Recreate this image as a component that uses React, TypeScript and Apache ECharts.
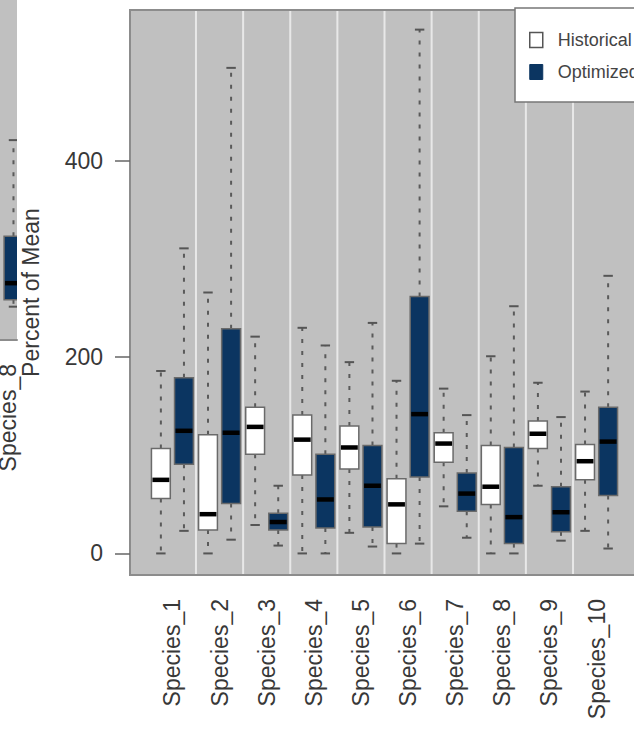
import React, { useEffect, useRef } from "react";
import * as echarts from "echarts";

// ---- data ----
const categories = [
  "Species_1", "Species_2", "Species_3", "Species_4", "Species_5",
  "Species_6", "Species_7", "Species_8", "Species_9", "Species_10",
];
// [lower whisker, Q1, median, Q3, upper whisker]
const historical = [
  [0, 56, 75, 107, 186],
  [0, 24, 40, 121, 266],
  [29, 101, 129, 149, 221],
  [0, 80, 116, 141, 230],
  [21, 86, 108, 130, 195],
  [0, 10, 50, 76, 176],
  [48, 93, 112, 123, 168],
  [0, 50, 68, 110, 201],
  [69, 107, 122, 135, 174],
  [23, 75, 94, 111, 165],
];
const optimized = [
  [23, 91, 125, 179, 311],
  [14, 51, 123, 229, 495],
  [8, 24, 32, 41, 69],
  [0, 26, 55, 101, 212],
  [7, 27, 69, 110, 235],
  [10, 78, 142, 262, 534],
  [16, 43, 61, 82, 141],
  [0, 10, 37, 108, 252],
  [13, 22, 42, 68, 139],
  [5, 59, 114, 149, 283],
];
const separators = [1.5, 2.5, 3.5, 4.5, 5.5, 6.5, 7.5, 8.5, 9.5];
const yTicks = [0, 200, 400];
const seriesNames = ["Historical", "Optimized"];
const yTitle = "Percent of Mean";
// cropped neighbour panel at the left edge
const fragmentLabel = "Species_8";
const fragmentOptimized = [12, 19, 36, 84, 182];

// ---- styling ----
const FONT = "'Liberation Sans', Arial, sans-serif";
const TEXT = "#383838";
const GREY_BG = "#c0c0c0";
const NAVY = "#0b3561";
const BOX_W = 0.4;
const OFFSET = 0.245;
const FS = 23;

function makeRender(fill: string) {
  return (params: any, api: any) => {
    const x = api.value(0);
    const lo = api.value(1);
    const q1 = api.value(2);
    const med = api.value(3);
    const q3 = api.value(4);
    const hi = api.value(5);
    const cx = api.coord([x, med])[0];
    const yLo = api.coord([x, lo])[1];
    const yQ1 = api.coord([x, q1])[1];
    const yMed = api.coord([x, med])[1];
    const yQ3 = api.coord([x, q3])[1];
    const yHi = api.coord([x, hi])[1];
    const w = api.size([BOX_W, 0])[0];
    const half = w / 2;
    const cap = w / 4;
    const dash = { stroke: "#5a5a5a", lineWidth: 2, lineDash: [4, 8] };
    const solid = { stroke: "#555", lineWidth: 2 };
    return {
      type: "group",
      children: [
        { type: "line", shape: { x1: cx, y1: yQ3, x2: cx, y2: yHi }, style: dash },
        { type: "line", shape: { x1: cx, y1: yQ1, x2: cx, y2: yLo }, style: dash },
        { type: "line", shape: { x1: cx - cap, y1: yHi, x2: cx + cap, y2: yHi }, style: solid },
        { type: "line", shape: { x1: cx - cap, y1: yLo, x2: cx + cap, y2: yLo }, style: solid },
        {
          type: "rect",
          shape: { x: cx - half, y: yQ3, width: w, height: yQ1 - yQ3 },
          style: { fill, stroke: "#6a6a6a", lineWidth: 1.5 },
        },
        {
          type: "line",
          shape: { x1: cx - half + 1, y1: yMed, x2: cx + half - 1, y2: yMed },
          style: { stroke: "#000", lineWidth: 4.5 },
        },
      ],
    };
  };
}

export default function App() {
  const ref = useRef<HTMLDivElement>(null);

  useEffect(() => {
    if (!ref.current) return;
    const chart = echarts.init(ref.current, undefined, { renderer: "svg" });

    const histData = historical.map((d, i) => [i + 1 - OFFSET, ...d]);
    const optData = optimized.map((d, i) => [i + 1 + OFFSET, ...d]);
    const fragData = [[8 + OFFSET, ...fragmentOptimized]];

    const option: any = {
      animation: false,
      textStyle: { fontFamily: FONT },
      grid: [
        {
          left: 130,
          top: 10,
          right: 1,
          bottom: 160,
          show: true,
          backgroundColor: GREY_BG,
          borderColor: "#8c8c8c",
          borderWidth: 2,
          containLabel: false,
          outerBoundsMode: "none",
        },
        {
          left: 0,
          width: 17,
          top: 0,
          bottom: 395,
          show: true,
          backgroundColor: GREY_BG,
          borderWidth: 0,
          containLabel: false,
          outerBoundsMode: "none",
        },
      ],
      xAxis: [
        {
          type: "value",
          gridIndex: 0,
          min: 0.1,
          max: 10.9,
          axisLine: { show: false },
          axisTick: { show: false },
          splitLine: { show: false },
          axisLabel: {
            customValues: categories.map((_, i) => i + 1),
            formatter: (v: number) => categories[Math.round(v) - 1] ?? "",
            rotate: 90,
            margin: 24,
            fontSize: FS,
            color: TEXT,
            fontFamily: FONT,
          },
        },
        {
          type: "value",
          gridIndex: 1,
          min: 7.958,
          max: 8.32,
          axisLine: { show: true, onZero: false, lineStyle: { color: "#8c8c8c", width: 2 } },
          axisTick: { show: false },
          splitLine: { show: false },
          axisLabel: {
            customValues: [8.12],
            formatter: () => fragmentLabel,
            rotate: 90,
            margin: 24,
            fontSize: FS,
            color: TEXT,
            fontFamily: FONT,
          },
        },
      ],
      yAxis: [
        {
          type: "value",
          gridIndex: 0,
          min: -22,
          max: 554,
          name: yTitle,
          nameLocation: "middle",
          nameRotate: 90,
          nameGap: 88,
          nameTextStyle: { fontSize: FS, color: TEXT, fontFamily: FONT },
          axisLine: { show: false },
          splitLine: { show: false },
          axisTick: {
            show: true,
            customValues: yTicks,
            length: 15,
            lineStyle: { color: "#666", width: 1.5 },
          },
          axisLabel: {
            customValues: yTicks,
            margin: 27,
            fontSize: FS,
            color: TEXT,
            fontFamily: FONT,
          },
        },
        {
          type: "value",
          gridIndex: 1,
          min: -22,
          max: 325,
          show: false,
        },
      ],
      legend: {
        orient: "vertical",
        left: 515,
        top: 8,
        padding: [23, 20, 21, 14],
        itemGap: 14,
        itemWidth: 13,
        itemHeight: 15,
        backgroundColor: "#ffffff",
        borderColor: "#777",
        borderWidth: 1.5,
        borderRadius: 0,
        selectedMode: false,
        textStyle: { fontSize: 18, color: "#444", fontFamily: FONT, padding: [0, 0, 0, 10] },
        data: [
          {
            name: seriesNames[0],
            icon: "rect",
            itemStyle: { color: "#ffffff", borderColor: "#555", borderWidth: 1.5 },
          },
          {
            name: seriesNames[1],
            icon: "rect",
            itemStyle: { color: NAVY, borderColor: NAVY, borderWidth: 1 },
          },
        ],
      },
      series: [
        {
          type: "custom",
          name: "separators",
          xAxisIndex: 0,
          yAxisIndex: 0,
          z: 1,
          silent: true,
          data: separators.map((v) => [v, 0]),
          encode: { x: 0, y: 1 },
          renderItem: (params: any, api: any) => {
            const x = api.coord([api.value(0), 0])[0];
            const cs = params.coordSys;
            return {
              type: "line",
              shape: { x1: x, y1: cs.y + 1, x2: x, y2: cs.y + cs.height - 1 },
              style: { stroke: "#e8e8e8", lineWidth: 2 },
            };
          },
        },
        {
          type: "custom",
          name: seriesNames[0],
          xAxisIndex: 0,
          yAxisIndex: 0,
          z: 2,
          itemStyle: { color: "#ffffff" },
          data: histData,
          encode: { x: 0, y: [1, 2, 3, 4, 5] },
          renderItem: makeRender("#ffffff"),
        },
        {
          type: "custom",
          name: seriesNames[1],
          xAxisIndex: 0,
          yAxisIndex: 0,
          z: 2,
          itemStyle: { color: NAVY },
          data: optData,
          encode: { x: 0, y: [1, 2, 3, 4, 5] },
          renderItem: makeRender(NAVY),
        },
        {
          type: "custom",
          name: "fragment",
          xAxisIndex: 1,
          yAxisIndex: 1,
          z: 2,
          clip: true,
          silent: true,
          data: fragData,
          encode: { x: 0, y: [1, 2, 3, 4, 5] },
          renderItem: makeRender(NAVY),
        },
      ],
    };

    chart.setOption(option);
    return () => chart.dispose();
  }, []);

  return (
    <div
      style={{
        position: "fixed",
        left: 0,
        top: 0,
        width: 634,
        height: 735,
        overflow: "hidden",
        background: "#fff",
      }}
    >
      <div ref={ref} style={{ width: 640, height: 735 }} />
    </div>
  );
}
